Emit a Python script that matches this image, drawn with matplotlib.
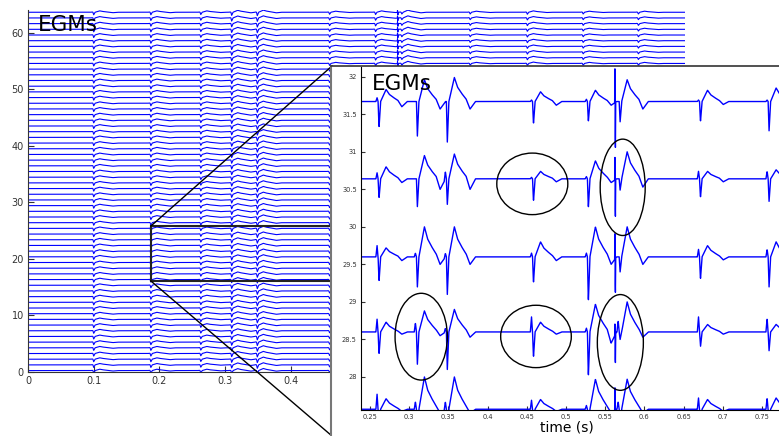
import numpy as np
import matplotlib
matplotlib.use("Agg")
import matplotlib.pyplot as plt
from matplotlib.patches import Rectangle, Ellipse
from matplotlib.lines import Line2D

# ---------------- data ----------------
# main overview: 64 stacked EGM channels
main_n_channels = 64
main_event_times = [0.100, 0.187, 0.263, 0.310, 0.349, 0.459, 0.529, 0.569, 0.673, 0.760, 0.845, 0.929]
main_event_down = [0.45, 0.45, 0.40, 0.55, 0.60, 0.35, 0.40, 0.30, 0.30, 0.35, 0.30, 0.30]
main_event_up = [0.25, 0.25, 0.25, 0.35, 0.38, 0.20, 0.25, 0.38, 0.20, 0.25, 0.20, 0.20]
main_event_dip = [0.08, 0.08, 0.06, 0.10, 0.10, 0.05, 0.06, 0.10, 0.05, 0.05, 0.05, 0.05]
main_spike_time = 0.5625
main_spike_up = 0.5
main_spike_down = 0.6
main_xticks = [0, 0.1, 0.2, 0.3, 0.4]
main_xticklabels = ["0", "0.1", "0.2", "0.3", "0.4"]
main_yticks = [0, 10, 20, 30, 40, 50, 60]

# zoomed inset: 5 channels
inset_offsets = [31.67, 30.64, 29.60, 28.60, 27.57]
inset_event_times = [0.2615, 0.3104, 0.3486, 0.4585, 0.5285, 0.5690, 0.6715, 0.7590]
inset_pre = [
    [0.05, 0.00, 0.00, 0.02, 0.03, 0.00, 0.02, 0.02],
    [0.08, 0.00, 0.10, 0.02, 0.03, 0.00, 0.10, 0.10],
    [0.15, 0.05, 0.05, 0.05, 0.05, 0.00, 0.10, 0.10],
    [0.17, 0.12, 0.05, 0.20, 0.05, 0.15, 0.20, 0.18],
    [0.20, 0.10, 0.10, 0.12, 0.05, 0.10, 0.15, 0.15],
]
inset_down = [
    [0.35, 0.46, 0.54, 0.30, 0.27, 0.27, 0.27, 0.39],
    [0.26, 0.37, 0.34, 0.30, 0.39, 0.15, 0.25, 0.30],
    [0.33, 0.40, 0.50, 0.35, 0.60, 0.20, 0.30, 0.40],
    [0.30, 0.43, 0.50, 0.34, 0.60, 0.10, 0.20, 0.25],
    [0.30, 0.30, 0.40, 0.20, 0.30, 0.20, 0.20, 0.20],
]
inset_up = [
    [0.16, 0.29, 0.32, 0.13, 0.15, 0.29, 0.15, 0.18],
    [0.16, 0.31, 0.33, 0.10, 0.24, 0.36, 0.10, 0.12],
    [0.12, 0.40, 0.40, 0.20, 0.40, 0.40, 0.15, 0.20],
    [0.13, 0.28, 0.30, 0.13, 0.37, 0.40, 0.10, 0.10],
    [0.14, 0.43, 0.43, 0.13, 0.40, 0.40, 0.13, 0.15],
]
inset_dip = [
    [0.07, 0.10, 0.10, 0.05, 0.05, 0.10, 0.04, 0.05],
    [0.05, 0.14, 0.14, 0.04, 0.05, 0.11, 0.04, 0.04],
    [0.05, 0.10, 0.10, 0.05, 0.10, 0.10, 0.04, 0.05],
    [0.03, 0.05, 0.07, 0.03, 0.15, 0.07, 0.03, 0.03],
    [0.03, 0.05, 0.05, 0.03, 0.05, 0.05, 0.03, 0.03],
]
inset_spike_time = 0.5625
inset_spike_up = [0.60, 0.40, 0.45, 0.20, 0.40]
inset_spike_down = [0.80, 0.65, 0.60, 0.50, 0.30]
inset_xticks = [0.25, 0.3, 0.35, 0.4, 0.45, 0.5, 0.55, 0.6, 0.65, 0.7, 0.75]
inset_xticklabels = ["0.25", "0.3", "0.35", "0.4", "0.45", "0.5", "0.55", "0.6", "0.65", "0.7", "0.75"]
inset_yticks = [28, 28.5, 29, 29.5, 30, 30.5, 31, 31.5, 32]
inset_yticklabels = ["28", "28.5", "29", "29.5", "30", "30.5", "31", "31.5", "32"]

# ellipses (centre x, centre y, width, height) in inset data units
ellipse_cx = [0.457, 0.5723, 0.3153, 0.4617, 0.5693]
ellipse_cy = [30.573, 30.527, 28.537, 28.54, 28.46]
ellipse_w = [0.0906, 0.0574, 0.0667, 0.0901, 0.0587]
ellipse_h = [0.82, 1.284, 1.156, 0.831, 1.276]

# zoom rectangle in main axes data units
zoom_x0, zoom_y0, zoom_y1 = 0.187, 16.1, 25.8

# ------------- waveform shape (per-event knots) -------------
rel_t = np.array([-0.004, -0.0025, -0.0012, 0.0, 0.002, 0.009, 0.013, 0.018, 0.024, 0.029, 0.036])
spike_rel = np.array([-0.0004, 0.0, 0.0004, 0.0008])


def event_shape(t, t0, pre, down, up, dip):
    vals = [0, pre, 0, -down, 0, up, 0.6 * up, 0.35 * up, 0.1 * up, -dip, 0]
    return np.interp(t, t0 + rel_t, vals, left=0, right=0)


def spike_shape(t, t0, up, down):
    return np.interp(t, t0 + spike_rel, [0, up, -down, 0], left=0, right=0)


t = np.arange(0, 1.0001, 0.0002)

BLUE = "#0000ff"
fig = plt.figure(figsize=(7.79, 4.36), dpi=100)

# ---------------- main axes ----------------
ax = fig.add_axes([28 / 779, 1 - 372 / 436, 657 / 779, 362 / 436])
ax.set_zorder(1)
ax.set_xlim(0, 1.0)
ax.set_ylim(0, 64)
main_offsets = np.linspace(0.25, 63.6, main_n_channels)
base = np.zeros_like(t)
for i, t0 in enumerate(main_event_times):
    base += event_shape(t, t0, 0.05, main_event_down[i], main_event_up[i], main_event_dip[i])
base += spike_shape(t, main_spike_time, main_spike_up, main_spike_down)
for off in main_offsets:
    ax.plot(t, base + off, color=BLUE, lw=0.8)
ax.spines["top"].set_visible(False)
ax.spines["right"].set_visible(False)
for s in ("left", "bottom"):
    ax.spines[s].set_color("#333333")
ax.set_xticks(main_xticks)
ax.set_xticklabels(main_xticklabels)
ax.set_yticks(main_yticks)
ax.tick_params(direction="in", length=4, labelsize=7, colors="#333333", pad=3)
ax.text(0.0152, 60.3, "EGMs", fontsize=15.5, ha="left", va="baseline", zorder=6)
ax.add_patch(Rectangle((zoom_x0, zoom_y0), 0.7, zoom_y1 - zoom_y0, fill=False,
                       ec="#222222", lw=1.5, zorder=5))

# connector lines from zoom rectangle to panel
inv = fig.transFigure.inverted()
p_top = inv.transform(ax.transData.transform((zoom_x0, zoom_y1)))
p_bot = inv.transform(ax.transData.transform((zoom_x0, zoom_y0)))
panel_x = 332 / 779
fig.add_artist(Line2D([p_top[0], panel_x], [p_top[1], 1 - 66 / 436], color="k", lw=1.0, zorder=1.5))
fig.add_artist(Line2D([p_bot[0], panel_x], [p_bot[1], 0.0], color="k", lw=1.0, zorder=1.5))

# ---------------- white panel ----------------
panel = fig.add_axes([331 / 779, -0.1, 0.7, 0.1 + (436 - 66) / 436])
panel.set_zorder(2)
panel.set_facecolor("white")
panel.set_xticks([])
panel.set_yticks([])
panel.spines["right"].set_visible(False)
panel.spines["bottom"].set_visible(False)
panel.spines["left"].set_color("#777777")
panel.spines["left"].set_linewidth(1.5)
panel.spines["top"].set_color("#333333")
panel.spines["top"].set_linewidth(1.2)

# ---------------- inset axes ----------------
x_lo, x_hi = 0.2385, 0.80
inset = fig.add_axes([361 / 779, 1 - 410 / 436, (x_hi - x_lo) * 784 / 779, 343 / 436])
inset.set_zorder(3)
inset.patch.set_alpha(0)
inset.set_xlim(x_lo, x_hi)
inset.set_ylim(27.56, 32.13)
for c, off in enumerate(inset_offsets):
    sig = np.zeros_like(t)
    for j, t0 in enumerate(inset_event_times):
        sig += event_shape(t, t0, inset_pre[c][j], inset_down[c][j], inset_up[c][j], inset_dip[c][j])
    sig += spike_shape(t, inset_spike_time, inset_spike_up[c], inset_spike_down[c])
    inset.plot(t, sig + off, color=BLUE, lw=1.0)
for k in range(len(ellipse_cx)):
    inset.add_patch(Ellipse((ellipse_cx[k], ellipse_cy[k]), ellipse_w[k], ellipse_h[k],
                            fill=False, ec="black", lw=1.0, zorder=4))
inset.spines["top"].set_visible(False)
inset.spines["right"].set_visible(False)
inset.set_xticks(inset_xticks)
inset.set_xticklabels(inset_xticklabels)
inset.set_yticks(inset_yticks)
inset.set_yticklabels(inset_yticklabels)
inset.tick_params(direction="in", length=3, labelsize=4.8, colors="#333333", pad=3)
inset.text(0.2525, 31.82, "EGMs", fontsize=15.5, ha="left", va="baseline", zorder=6)
fig.text(567 / 779, 1 - 427 / 436, "time (s)", fontsize=10, ha="center", va="center", zorder=10)

fig.savefig("out.png", dpi=100)
